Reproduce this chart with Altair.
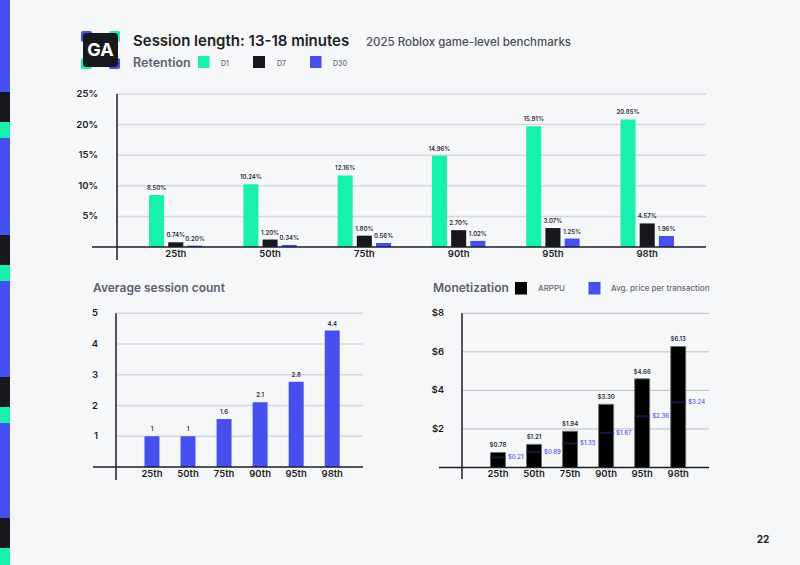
import altair as alt
import pandas as pd

# ---------------- data ----------------
pct = ["25th", "50th", "75th", "90th", "95th", "98th"]
series = ["D1", "D7", "D30"]
d1 = [8.50, 10.24, 11.70, 14.90, 19.75, 20.85]
d1_lbl = ["8.50%", "10.24%", "12.16%", "14.96%", "15.91%", "20.85%"]
d7 = [0.77, 1.22, 1.85, 2.75, 3.10, 3.85]
d7_lbl = ["0.74%", "1.20%", "1.80%", "2.70%", "3.07%", "4.57%"]
d30 = [0.22, 0.34, 0.65, 1.00, 1.38, 1.80]
d30_lbl = ["0.20%", "0.34%", "0.56%", "1.02%", "1.25%", "1.96%"]
ret_ticks = [5, 10, 15, 20, 25]
ret_tick_lbl = ["5%", "10%", "15%", "20%", "25%"]

sessions = [1.0, 1.0, 1.56, 2.11, 2.77, 4.44]
sessions_lbl = ["1", "1", "1.6", "2.1", "2.8", "4.4"]
sess_ticks = [1, 2, 3, 4, 5]
sess_tick_lbl = ["1", "2", "3", "4", "5"]

arppu = [0.78, 1.20, 1.88, 3.28, 4.60, 6.28]
arppu_lbl = ["$0.78", "$1.21", "$1.94", "$3.30", "$4.66", "$6.13"]
price = [0.52, 0.81, 1.25, 1.80, 2.66, 3.38]
price_lbl = ["$0.21", "$0.89", "$1.35", "$1.87", "$2.36", "$3.24"]
mon_ticks = [2, 4, 6, 8]
mon_tick_lbl = ["$2", "$4", "$6", "$8"]

# ---------------- styles / layout ----------------
GREEN = "#17f1ad"
BLACK = "#16181d"
BLUE = "#4650f0"
NAVY = "#1d2066"
BG = "#f6f7f9"
DARK = "#1c1e24"
GRAYTXT = "#5b5f6b"
FONT = "Inter"

TOP = dict(x0=117, x1=706, yb=247, yt=94, axb=260, basel=92, lblx=98, xly=254)
BL = dict(x0=116, x1=363, yb=467, yt=313.3, axb=480, basel=93, lblx=98, xly=474)
BR = dict(x0=462, x1=709, yb=467.5, yt=313.3, axb=479, basel=439, lblx=444, xly=474)


def dummy():
    return pd.DataFrame({"a": [0]})


def axis_lines(L):
    yax = alt.Chart(dummy()).mark_rule(color=DARK, strokeWidth=1.5).encode(
        x=alt.value(L["x0"]), y=alt.value(L["yt"]), y2=alt.value(L["axb"]))
    base = alt.Chart(dummy()).mark_rule(color=DARK, strokeWidth=1.5).encode(
        x=alt.value(L["basel"]), x2=alt.value(L["x1"]), y=alt.value(L["yb"]))
    return [yax, base]


def grid_and_ticks(L, ticks, labels, yenc, gcolor, gwidth):
    df = pd.DataFrame({"v": ticks, "t": labels})
    grid = alt.Chart(df).mark_rule(color=gcolor, strokeWidth=gwidth).encode(
        y=yenc, x=alt.value(L["x0"]), x2=alt.value(L["x1"]))
    lbl = alt.Chart(df).mark_text(align="right", baseline="middle", font=FONT,
                                  fontSize=9.5, fontWeight=600, color=DARK).encode(
        y=yenc, x=alt.value(L["lblx"]), text="t:N")
    return grid, lbl


def xlabels(L, xenc):
    return alt.Chart(pd.DataFrame({"pct": pct})).mark_text(
        baseline="middle", font=FONT, fontSize=9.5, fontWeight=600, color=DARK).encode(
        x=xenc, y=alt.value(L["xly"]), text="pct:N")


# ---------------- top: retention ----------------
rows = []
for i, p in enumerate(pct):
    rows.append({"pct": p, "s": "D1", "v": d1[i], "lbl": d1_lbl[i]})
    rows.append({"pct": p, "s": "D7", "v": d7[i], "lbl": d7_lbl[i]})
    rows.append({"pct": p, "s": "D30", "v": d30[i], "lbl": d30_lbl[i]})
top_df = pd.DataFrame(rows)

x_top = alt.X("pct:N", sort=pct, axis=None,
              scale=alt.Scale(domain=pct, range=[TOP["x0"], TOP["x1"]],
                              paddingInner=0.433, paddingOuter=0.34))
y_top = alt.Y("v:Q", axis=None,
              scale=alt.Scale(domain=[0, 25], range=[TOP["yb"], TOP["yt"]], nice=False))
xo_top = alt.XOffset("s:N", sort=series,
                     scale=alt.Scale(domain=series, paddingInner=0.217, paddingOuter=0))

g_top, l_top = grid_and_ticks(TOP, ret_ticks, ret_tick_lbl, y_top, "#d6d8de", 1.5)
bars_top = alt.Chart(top_df).mark_bar().encode(
    x=x_top, xOffset=xo_top, y=y_top,
    color=alt.Color("s:N", scale=alt.Scale(domain=series, range=[GREEN, BLACK, BLUE]), legend=None))
txt_top = alt.Chart(top_df).mark_text(
    baseline="bottom", dy=-4, font=FONT, fontSize=6, fontWeight=600, color="#2a2c33").encode(
    x=x_top, xOffset=xo_top, y=y_top, text="lbl:N")
top_layer = alt.layer(g_top, l_top, bars_top, txt_top, xlabels(TOP, x_top), *axis_lines(TOP))

# ---------------- bottom-left: sessions ----------------
bl_df = pd.DataFrame({"pct": pct, "v": sessions, "lbl": sessions_lbl})
x_bl = alt.X("pct:N", sort=pct, axis=None,
             scale=alt.Scale(domain=pct, range=[BL["x0"], BL["x1"]],
                             paddingInner=0.585, paddingOuter=0.718, align=0.55))
y_bl = alt.Y("v:Q", axis=None,
             scale=alt.Scale(domain=[0, 5], range=[BL["yb"], BL["yt"]], nice=False))
g_bl, l_bl = grid_and_ticks(BL, sess_ticks, sess_tick_lbl, y_bl, "#d6d8de", 1.5)
bars_bl = alt.Chart(bl_df).mark_bar(color=BLUE).encode(x=x_bl, y=y_bl)
txt_bl = alt.Chart(bl_df).mark_text(
    baseline="bottom", dy=-4, font=FONT, fontSize=6, fontWeight=600, color="#2a2c33").encode(
    x=x_bl, y=y_bl, text="lbl:N")
bl_layer = alt.layer(g_bl, l_bl, bars_bl, txt_bl, xlabels(BL, x_bl), *axis_lines(BL))

# ---------------- bottom-right: monetization ----------------
br_df = pd.DataFrame({"pct": pct, "v": arppu, "lbl": arppu_lbl, "p": price, "plbl": price_lbl})
x_br = alt.X("pct:N", sort=pct, axis=None,
             scale=alt.Scale(domain=pct, range=[BR["x0"], BR["x1"]],
                             paddingInner=0.585, paddingOuter=0.718, align=0.55))
y_scale_br = alt.Scale(domain=[0, 8], range=[BR["yb"], BR["yt"]], nice=False)
y_br = alt.Y("v:Q", axis=None, scale=y_scale_br)
yp_br = alt.Y("p:Q", axis=None, scale=y_scale_br)
g_br, l_br = grid_and_ticks(BR, mon_ticks, mon_tick_lbl, y_br, "#b9bcc4", 1)
bars_br = alt.Chart(br_df).mark_bar(color="#000000", stroke="#707070", strokeWidth=1).encode(
    x=x_br, y=y_br)
txt_br = alt.Chart(br_df).mark_text(
    baseline="bottom", dy=-4, font=FONT, fontSize=6, fontWeight=600, color="#2a2c33").encode(
    x=x_br, y=y_br, text="lbl:N")
tick_br = alt.Chart(br_df).mark_tick(color=NAVY, thickness=2, size=15).encode(x=x_br, y=yp_br)
ptxt_br = alt.Chart(br_df).mark_text(
    align="left", baseline="middle", dx=10, font=FONT, fontSize=6, fontWeight=500, color=BLUE).encode(
    x=x_br, y=yp_br, text="plbl:N")
br_layer = alt.layer(g_br, l_br, bars_br, tick_br, txt_br, ptxt_br, xlabels(BR, x_br), *axis_lines(BR))

# ---------------- decorations ----------------
stripe_df = pd.DataFrame({
    "y0": [0, 92, 122, 138, 235, 265, 281, 377, 407, 423, 518, 548],
    "y1": [92, 122, 138, 235, 265, 281, 377, 407, 423, 518, 548, 565],
    "c": [BLUE, BLACK, GREEN] * 4,
})
stripe = alt.Chart(stripe_df).mark_rect().encode(
    x=alt.value(0), x2=alt.value(10),
    y=alt.Y("y0:Q", scale=None), y2="y1:Q",
    color=alt.Color("c:N", scale=None))


def rect(x, x2, y, y2, color, **kw):
    return alt.Chart(dummy()).mark_rect(color=color, **kw).encode(
        x=alt.value(x), x2=alt.value(x2), y=alt.value(y), y2=alt.value(y2))


def text(s, x, y, size, weight=400, color=DARK, align="left", baseline="alphabetic"):
    return alt.Chart(dummy()).mark_text(
        text=s, align=align, baseline=baseline, font=FONT, fontSize=size,
        fontWeight=weight, color=color).encode(x=alt.value(x), y=alt.value(y))


logo = [
    rect(81, 92, 31, 42, BLUE, cornerRadius=2),
    rect(109, 120, 31, 42, GREEN, cornerRadius=2),
    rect(81, 92, 58, 69, GREEN, cornerRadius=2),
    rect(109, 120, 58, 69, BLUE, cornerRadius=2),
    rect(83, 118, 33, 67, BLACK, cornerRadius=3),
    text("GA", 100.5, 51, 18, 700, "#ffffff", align="center", baseline="middle"),
]

header = [
    text("Session length: 13-18 minutes", 133, 46, 15, 600, DARK),
    text("2025 Roblox game-level benchmarks", 366, 46, 11.5, 500, "#4a4d57"),
    text("Retention", 133, 67, 12.5, 600, GRAYTXT),
    rect(198, 209.5, 56, 68, GREEN),
    text("D1", 221, 65.5, 7, 500, "#666a75"),
    rect(253, 265, 56, 68, BLACK),
    text("D7", 277, 65.5, 7, 500, "#666a75"),
    rect(310, 321.5, 56, 68, BLUE),
    text("D30", 333, 65.5, 7, 500, "#666a75"),
    text("Average session count", 93, 291.5, 12, 600, GRAYTXT),
    text("Monetization", 433, 291.5, 12, 600, GRAYTXT),
    rect(515, 527, 282, 294.5, "#000000"),
    text("ARPPU", 538, 291, 8, 500, "#666a75"),
    rect(588.5, 600.5, 282, 294.5, BLUE),
    text("Avg. price per transaction", 611, 291, 8, 500, "#666a75"),
    text("22", 763, 540, 10, 700, DARK, align="center", baseline="middle"),
]

chart = alt.layer(
    stripe, *logo, *header, top_layer, bl_layer, br_layer
).resolve_scale(
    x="independent", y="independent", color="independent", xOffset="independent"
).properties(
    width=800, height=565, padding=0,
    autosize=alt.AutoSizeParams(type="none"),
    background=BG,
).configure_view(stroke=None)

chart.save("out.html", embed_options={"renderer": "svg", "actions": False})
